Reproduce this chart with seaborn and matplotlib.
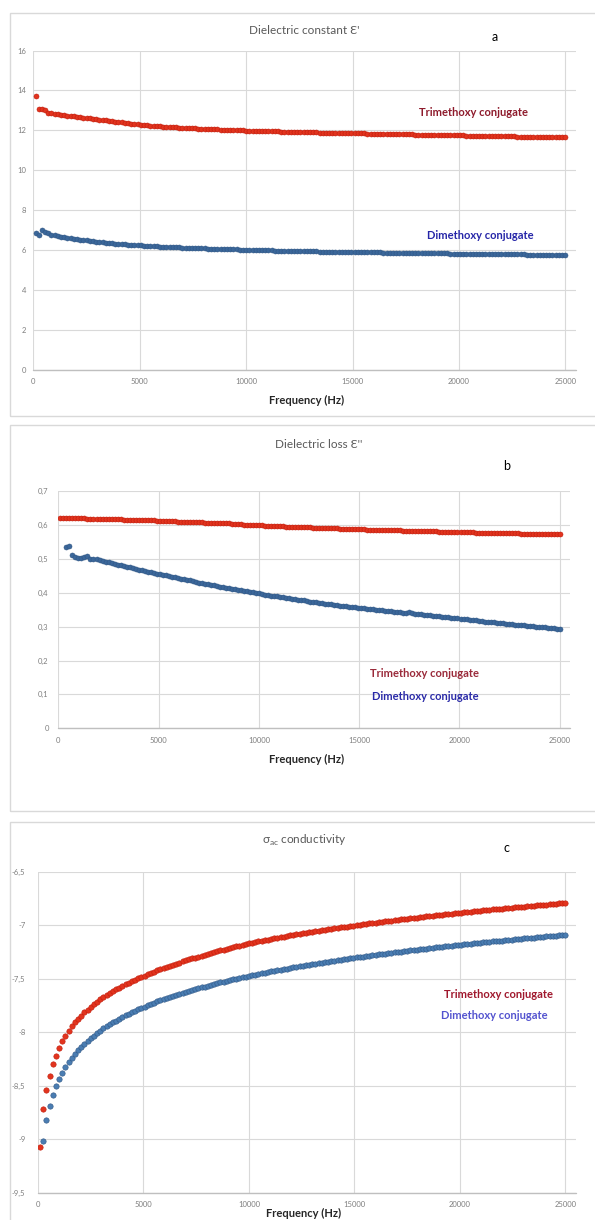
import matplotlib
matplotlib.use("Agg")
import matplotlib.pyplot as plt
import seaborn as sns
import pandas as pd
from matplotlib.patches import Rectangle
from matplotlib.ticker import FuncFormatter

W, H = 595, 1220

# frequency grid of the measurement (Hz)
freq = list(range(100, 25001, 150))

# dielectric constant e'
eps_tri = [
    13.70, 13.05, 13.05, 13.00, 12.86, 12.88, 12.82, 12.80, 12.78, 12.76,
    12.74, 12.72, 12.70, 12.68, 12.66, 12.64, 12.62, 12.60, 12.58, 12.56,
    12.54, 12.52, 12.50, 12.48, 12.46, 12.44, 12.42, 12.40, 12.38, 12.36,
    12.34, 12.32, 12.30, 12.28, 12.27, 12.25, 12.24, 12.22, 12.21, 12.20,
    12.19, 12.18, 12.17, 12.16, 12.15, 12.14, 12.13, 12.12, 12.11, 12.10,
    12.10, 12.09, 12.08, 12.07, 12.07, 12.06, 12.05, 12.05, 12.04, 12.03,
    12.03, 12.02, 12.02, 12.01, 12.00, 12.00, 11.99, 11.99, 11.98, 11.98,
    11.97, 11.97, 11.96, 11.96, 11.95, 11.95, 11.95, 11.94, 11.94, 11.93,
    11.93, 11.93, 11.92, 11.92, 11.91, 11.91, 11.91, 11.90, 11.90, 11.89,
    11.89, 11.89, 11.88, 11.88, 11.88, 11.87, 11.87, 11.87, 11.86, 11.86,
    11.86, 11.85, 11.85, 11.85, 11.84, 11.84, 11.84, 11.83, 11.83, 11.83,
    11.82, 11.82, 11.82, 11.81, 11.81, 11.81, 11.80, 11.80, 11.80, 11.79,
    11.79, 11.79, 11.78, 11.78, 11.78, 11.77, 11.77, 11.77, 11.76, 11.76,
    11.76, 11.76, 11.75, 11.75, 11.75, 11.74, 11.74, 11.74, 11.73, 11.73,
    11.73, 11.72, 11.72, 11.72, 11.71, 11.71, 11.71, 11.71, 11.70, 11.70,
    11.70, 11.69, 11.69, 11.69, 11.69, 11.68, 11.68, 11.68, 11.68, 11.67,
    11.67, 11.67, 11.67, 11.66, 11.66, 11.66, 11.66,
]
eps_di = [
    6.87, 6.78, 7.00, 6.93, 6.85, 6.78, 6.74, 6.70, 6.67, 6.64,
    6.61, 6.59, 6.57, 6.55, 6.53, 6.51, 6.49, 6.47, 6.45, 6.43,
    6.41, 6.39, 6.37, 6.36, 6.34, 6.33, 6.31, 6.30, 6.29, 6.28,
    6.27, 6.26, 6.25, 6.24, 6.23, 6.22, 6.21, 6.20, 6.19, 6.18,
    6.18, 6.17, 6.16, 6.15, 6.15, 6.14, 6.13, 6.13, 6.12, 6.11,
    6.11, 6.10, 6.10, 6.09, 6.08, 6.08, 6.07, 6.07, 6.06, 6.06,
    6.05, 6.05, 6.04, 6.04, 6.03, 6.03, 6.02, 6.02, 6.01, 6.01,
    6.00, 6.00, 5.99, 5.99, 5.99, 5.98, 5.98, 5.97, 5.97, 5.97,
    5.96, 5.96, 5.96, 5.95, 5.95, 5.95, 5.94, 5.94, 5.94, 5.93,
    5.93, 5.93, 5.93, 5.92, 5.92, 5.92, 5.92, 5.91, 5.91, 5.91,
    5.91, 5.90, 5.90, 5.90, 5.90, 5.89, 5.89, 5.89, 5.89, 5.88,
    5.88, 5.88, 5.88, 5.87, 5.87, 5.87, 5.87, 5.86, 5.86, 5.86,
    5.86, 5.85, 5.85, 5.85, 5.85, 5.84, 5.84, 5.84, 5.84, 5.84,
    5.83, 5.83, 5.83, 5.83, 5.82, 5.82, 5.82, 5.82, 5.81, 5.81,
    5.81, 5.81, 5.81, 5.80, 5.80, 5.80, 5.80, 5.80, 5.79, 5.79,
    5.79, 5.79, 5.79, 5.79, 5.78, 5.78, 5.78, 5.78, 5.78, 5.78,
    5.77, 5.77, 5.77, 5.77, 5.77, 5.77, 5.77,
]

# dielectric loss e''
loss_tri = [
    0.620, 0.620, 0.620, 0.620, 0.619, 0.619, 0.619, 0.619, 0.619, 0.618,
    0.618, 0.618, 0.618, 0.617, 0.617, 0.617, 0.617, 0.616, 0.616, 0.616,
    0.616, 0.615, 0.615, 0.615, 0.615, 0.614, 0.614, 0.614, 0.613, 0.613,
    0.613, 0.613, 0.612, 0.612, 0.612, 0.612, 0.611, 0.611, 0.611, 0.610,
    0.610, 0.610, 0.609, 0.609, 0.609, 0.608, 0.608, 0.608, 0.607, 0.607,
    0.607, 0.606, 0.606, 0.606, 0.605, 0.605, 0.605, 0.604, 0.604, 0.604,
    0.602, 0.601, 0.601, 0.600, 0.600, 0.600, 0.599, 0.599, 0.598, 0.598,
    0.597, 0.597, 0.597, 0.596, 0.596, 0.595, 0.595, 0.595, 0.594, 0.594,
    0.594, 0.593, 0.593, 0.593, 0.592, 0.592, 0.592, 0.591, 0.591, 0.591,
    0.590, 0.590, 0.590, 0.589, 0.589, 0.589, 0.588, 0.588, 0.588, 0.587,
    0.587, 0.587, 0.586, 0.586, 0.586, 0.586, 0.585, 0.585, 0.585, 0.585,
    0.584, 0.584, 0.584, 0.584, 0.583, 0.583, 0.583, 0.583, 0.582, 0.582,
    0.582, 0.582, 0.581, 0.581, 0.581, 0.581, 0.580, 0.580, 0.580, 0.580,
    0.579, 0.579, 0.579, 0.579, 0.578, 0.578, 0.578, 0.578, 0.577, 0.577,
    0.577, 0.577, 0.577, 0.576, 0.576, 0.576, 0.576, 0.576, 0.575, 0.575,
    0.575, 0.575, 0.575, 0.574, 0.574, 0.574, 0.574, 0.574, 0.573, 0.573,
    0.573, 0.573, 0.573, 0.573, 0.572, 0.572, 0.572,
]
# dimethoxy loss starts at 400 Hz
loss_di = [
    0.535, 0.537, 0.512, 0.504, 0.503, 0.503, 0.506, 0.508,
    0.498, 0.500, 0.499, 0.496, 0.494, 0.492, 0.490, 0.488, 0.486, 0.483,
    0.481, 0.479, 0.477, 0.475, 0.473, 0.471, 0.468, 0.466, 0.464, 0.462,
    0.460, 0.458, 0.456, 0.454, 0.452, 0.451, 0.449, 0.447, 0.445, 0.443,
    0.441, 0.439, 0.438, 0.436, 0.434, 0.432, 0.430, 0.428, 0.427, 0.425,
    0.423, 0.422, 0.420, 0.418, 0.417, 0.415, 0.414, 0.412, 0.410, 0.409,
    0.407, 0.406, 0.404, 0.403, 0.401, 0.400, 0.400, 0.395, 0.394, 0.393,
    0.391, 0.390, 0.389, 0.387, 0.386, 0.385, 0.383, 0.382, 0.381, 0.379,
    0.378, 0.377, 0.376, 0.374, 0.373, 0.372, 0.371, 0.370, 0.368, 0.367,
    0.366, 0.365, 0.364, 0.362, 0.361, 0.360, 0.359, 0.358, 0.357, 0.356,
    0.355, 0.354, 0.353, 0.352, 0.351, 0.350, 0.349, 0.348, 0.347, 0.346,
    0.345, 0.344, 0.343, 0.342, 0.341, 0.340, 0.342, 0.339, 0.338, 0.337,
    0.336, 0.335, 0.334, 0.333, 0.332, 0.331, 0.330, 0.329, 0.328, 0.327,
    0.326, 0.325, 0.324, 0.323, 0.322, 0.321, 0.320, 0.319, 0.318, 0.317,
    0.316, 0.315, 0.315, 0.314, 0.313, 0.312, 0.311, 0.310, 0.309, 0.308,
    0.307, 0.306, 0.306, 0.305, 0.304, 0.303, 0.302, 0.301, 0.300, 0.299,
    0.298, 0.298, 0.297, 0.296, 0.295, 0.294, 0.293,
]

# log sigma_ac
sig_tri = [
    -9.070, -8.720, -8.540, -8.410, -8.300, -8.220, -8.150, -8.085, -8.035, -7.990,
    -7.946, -7.909, -7.875, -7.844, -7.815, -7.788, -7.762, -7.738, -7.715, -7.694,
    -7.673, -7.654, -7.635, -7.617, -7.600, -7.584, -7.568, -7.553, -7.538, -7.524,
    -7.510, -7.497, -7.484, -7.472, -7.459, -7.447, -7.435, -7.423, -7.412, -7.401,
    -7.390, -7.379, -7.369, -7.359, -7.349, -7.339, -7.329, -7.320, -7.311, -7.302,
    -7.293, -7.284, -7.276, -7.267, -7.259, -7.251, -7.243, -7.235, -7.228, -7.220,
    -7.213, -7.205, -7.198, -7.191, -7.184, -7.177, -7.170, -7.164, -7.158, -7.152,
    -7.146, -7.140, -7.134, -7.129, -7.123, -7.118, -7.112, -7.107, -7.102, -7.096,
    -7.091, -7.086, -7.081, -7.076, -7.071, -7.067, -7.062, -7.057, -7.052, -7.048,
    -7.043, -7.039, -7.034, -7.030, -7.025, -7.021, -7.017, -7.013, -7.008, -7.004,
    -7.000, -6.996, -6.992, -6.988, -6.984, -6.980, -6.976, -6.972, -6.968, -6.965,
    -6.961, -6.957, -6.954, -6.950, -6.946, -6.943, -6.939, -6.936, -6.932, -6.929,
    -6.925, -6.922, -6.918, -6.915, -6.912, -6.909, -6.905, -6.902, -6.899, -6.896,
    -6.892, -6.889, -6.886, -6.883, -6.880, -6.877, -6.874, -6.871, -6.868, -6.865,
    -6.862, -6.859, -6.856, -6.853, -6.850, -6.848, -6.845, -6.842, -6.839, -6.836,
    -6.834, -6.831, -6.828, -6.826, -6.823, -6.820, -6.817, -6.815, -6.812, -6.810,
    -6.807, -6.805, -6.802, -6.800, -6.797, -6.795, -6.792,
]
# dimethoxy conductivity starts at 250 Hz
sig_di = [
    -9.020, -8.823, -8.690, -8.589, -8.507, -8.439, -8.380, -8.329, -8.283,
    -8.242, -8.204, -8.170, -8.138, -8.109, -8.081, -8.055, -8.031, -8.007, -7.986,
    -7.965, -7.945, -7.926, -7.908, -7.891, -7.874, -7.858, -7.843, -7.828, -7.813,
    -7.799, -7.786, -7.773, -7.760, -7.748, -7.736, -7.725, -7.713, -7.702, -7.692,
    -7.681, -7.671, -7.661, -7.651, -7.642, -7.633, -7.624, -7.615, -7.606, -7.597,
    -7.589, -7.581, -7.573, -7.565, -7.557, -7.550, -7.542, -7.535, -7.528, -7.521,
    -7.514, -7.507, -7.500, -7.493, -7.487, -7.480, -7.474, -7.468, -7.462, -7.456,
    -7.450, -7.444, -7.438, -7.432, -7.427, -7.421, -7.415, -7.410, -7.405, -7.399,
    -7.394, -7.389, -7.384, -7.379, -7.374, -7.369, -7.364, -7.359, -7.354, -7.350,
    -7.345, -7.341, -7.336, -7.332, -7.327, -7.323, -7.318, -7.314, -7.310, -7.306,
    -7.301, -7.297, -7.293, -7.289, -7.285, -7.281, -7.277, -7.273, -7.269, -7.265,
    -7.262, -7.258, -7.254, -7.250, -7.247, -7.243, -7.240, -7.236, -7.232, -7.229,
    -7.225, -7.222, -7.218, -7.215, -7.212, -7.208, -7.205, -7.202, -7.198, -7.195,
    -7.192, -7.189, -7.186, -7.183, -7.179, -7.176, -7.173, -7.170, -7.167, -7.164,
    -7.161, -7.158, -7.155, -7.152, -7.149, -7.147, -7.144, -7.141, -7.138, -7.135,
    -7.132, -7.130, -7.127, -7.124, -7.121, -7.119, -7.116, -7.113, -7.111, -7.108,
    -7.105, -7.103, -7.100, -7.098, -7.095, -7.093, -7.090,
]

x_ticks = [0, 5000, 10000, 15000, 20000, 25000]
eps_ticks = [0, 2, 4, 6, 8, 10, 12, 14, 16]
loss_ticks = [0, 0.1, 0.2, 0.3, 0.4, 0.5, 0.6, 0.7]
sig_ticks = [-9.5, -9, -8.5, -8, -7.5, -7, -6.5]

RED_FILL, RED_EDGE = "#E2341E", "#C01A0A"
BLUE_FILL, BLUE_EDGE = "#3B679A", "#2F5684"
GRID = "#D9D9D9"

sns.set_style("white")
plt.rcParams["font.family"] = ["Lato", "DejaVu Sans"]
plt.rcParams["mathtext.fontset"] = "custom"
plt.rcParams["mathtext.rm"] = "Lato"


def comma_fmt(v, pos):
    return f"{v:g}".replace(".", ",")


def add_axes(fig, left, right, top, bottom):
    """Axes from pixel edges (y measured from the top)."""
    return fig.add_axes([left / W, 1 - bottom / H, (right - left) / W, (bottom - top) / H])


def fig_text(fig, x, y, s, **kw):
    fig.text(x / W, 1 - y / H, s, ha="center", va="center", **kw)


def add_box(fig, left, right, top, bottom):
    fig.patches.append(Rectangle((left / W, 1 - bottom / H), (right - left) / W, (bottom - top) / H,
                                 transform=fig.transFigure, fill=False, edgecolor=GRID, lw=1.0))


def draw_panel(ax, x_tri, y_tri, x_di, y_di, ylim, yticks, size, blue_fill=BLUE_FILL, ypad=5):
    df_di = pd.DataFrame({"freq": x_di, "value": y_di})
    df_tri = pd.DataFrame({"freq": x_tri, "value": y_tri})
    sns.scatterplot(data=df_di, x="freq", y="value", ax=ax, color=blue_fill,
                    edgecolor=BLUE_EDGE, linewidth=0.4, s=size, zorder=3)
    sns.scatterplot(data=df_tri, x="freq", y="value", ax=ax, color=RED_FILL,
                    edgecolor=RED_EDGE, linewidth=0.4, s=size, zorder=3)
    ax.set_xlim(0, 25500)
    ax.set_ylim(*ylim)
    ax.set_xticks(x_ticks)
    ax.set_yticks(yticks)
    ax.xaxis.set_major_formatter(FuncFormatter(comma_fmt))
    ax.yaxis.set_major_formatter(FuncFormatter(comma_fmt))
    ax.set_xlabel("")
    ax.set_ylabel("")
    ax.grid(True, color=GRID, lw=0.8)
    ax.set_axisbelow(True)
    for sp in ax.spines.values():
        sp.set_visible(False)
    ax.axhline(ylim[0], color="#BFBFBF", lw=1.0, zorder=2, clip_on=False)
    ax.tick_params(axis="both", length=0, labelsize=5.5, labelcolor="#7F7F7F")
    ax.tick_params(axis="x", pad=6)
    ax.tick_params(axis="y", pad=ypad)


fig = plt.figure(figsize=(W / 100, H / 100), dpi=100)
fig.patch.set_facecolor("white")

# panel a
add_box(fig, 9.5, 605, 13.3, 416)
ax_a = add_axes(fig, 33.4, 575.9, 50.5, 370)
draw_panel(ax_a, freq, eps_tri, freq, eps_di, (0, 16), eps_ticks, 13)
fig_text(fig, 304, 30.5, "Dielectric constant Ɛ'", fontsize=8.5, color="#595959")
fig_text(fig, 495, 37.3, "a", fontsize=9, color="black")
fig_text(fig, 307, 400.7, "Frequency (Hz)", fontsize=8, fontweight="bold", color="#262626")
fig_text(fig, 474, 112.7, "Trimethoxy conjugate", fontsize=8, fontweight="bold", color="#8E1B2C")
fig_text(fig, 480, 235.7, "Dimethoxy conjugate", fontsize=8, fontweight="bold", color="#2626A8")

# panel b
add_box(fig, 9.5, 605, 424.7, 811)
ax_b = add_axes(fig, 58.4, 569.8, 491, 728.3)
draw_panel(ax_b, freq, loss_tri, freq[2:], loss_di, (0, 0.7), loss_ticks, 13, ypad=7)
fig_text(fig, 319, 445, "Dielectric loss Ɛ''", fontsize=8.5, color="#595959")
fig_text(fig, 506.6, 466, "b", fontsize=9, color="black")
fig_text(fig, 306.6, 759, "Frequency (Hz)", fontsize=8, fontweight="bold", color="#262626")
fig_text(fig, 425, 673.3, "Trimethoxy conjugate", fontsize=8, fontweight="bold", color="#9A2A3A")
fig_text(fig, 425, 696, "Dimethoxy conjugate", fontsize=8, fontweight="bold", color="#2A2AA8")

# panel c
add_box(fig, 9.5, 605, 822.3, 1260)
ax_c = add_axes(fig, 38, 576, 871.7, 1192.7)
draw_panel(ax_c, freq, sig_tri, freq[1:], sig_di, (-9.5, -6.5), sig_ticks, 15,
           blue_fill="#4A7DB2", ypad=9)
fig_text(fig, 303.6, 840, r"σ$_{\mathregular{ac}}$ conductivity", fontsize=8.5, color="#595959")
fig_text(fig, 507, 848, "c", fontsize=9, color="black")
fig_text(fig, 303.6, 1213, "Frequency (Hz)", fontsize=8, fontweight="bold", color="#262626")
fig_text(fig, 499, 995, "Trimethoxy conjugate", fontsize=8, fontweight="bold", color="#A0182D")
fig_text(fig, 494, 1015.7, "Dimethoxy conjugate", fontsize=8, fontweight="bold", color="#5353CF")

fig.savefig("out.png", dpi=100, facecolor="white")
